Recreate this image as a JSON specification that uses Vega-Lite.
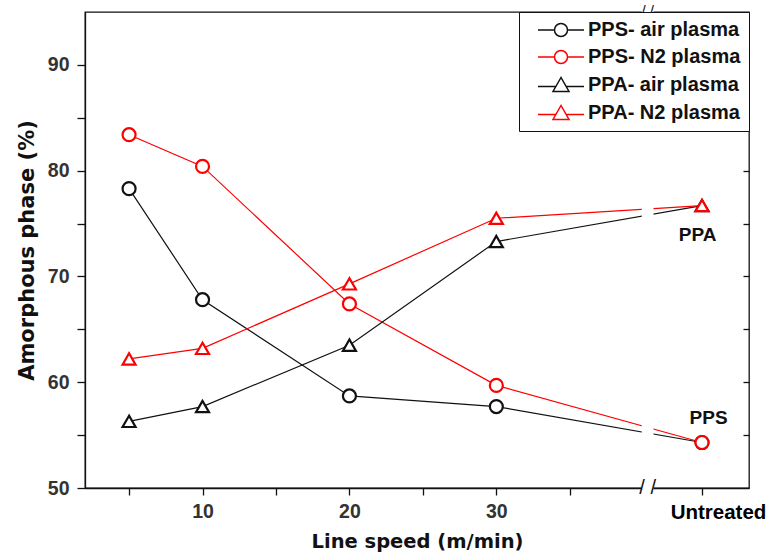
{
  "$schema": "https://vega.github.io/schema/vega-lite/v6.json",
  "width": 664,
  "height": 476,
  "autosize": {"type": "none"},
  "padding": {"left": 85, "top": 12, "right": 22, "bottom": 68},
  "background": "white",
  "config": {
    "font": "Liberation Sans",
    "view": {"stroke": "#111", "strokeWidth": 1.3},
    "axis": {
      "grid": false,
      "domainColor": "#111",
      "domainWidth": 1.3,
      "tickColor": "#111",
      "tickWidth": 1.3,
      "labelFont": "Liberation Sans",
      "labelFontWeight": "bold",
      "labelFontSize": 19.5,
      "labelColor": "#333333",
      "titleFont": "DejaVu Sans",
      "titleFontWeight": "bold",
      "titleFontSize": 19.5,
      "titleColor": "#111"
    },
    "legend": {
      "orient": "top-right",
      "offset": 0,
      "strokeColor": "#111",
      "fillColor": "white",
      "padding": 8,
      "labelFont": "Liberation Sans",
      "labelFontWeight": "bold",
      "labelFontSize": 20,
      "labelColor": "#111",
      "symbolSize": 100,
      "symbolStrokeWidth": 1.5,
      "symbolOpacity": 1,
      "symbolOffset": 24,
      "labelOffset": 17,
      "rowPadding": 7
    }
  },
  "data": {
    "values": [
      {"series": "PPS- air plasma", "speed": 5, "amorphous": 78.3},
      {"series": "PPS- air plasma", "speed": 10, "amorphous": 67.8},
      {"series": "PPS- air plasma", "speed": 20, "amorphous": 58.7},
      {"series": "PPS- air plasma", "speed": 30, "amorphous": 57.7},
      {"series": "PPS- air plasma", "speed": "Untreated", "amorphous": 54.3},
      {"series": "PPS- N2 plasma", "speed": 5, "amorphous": 83.4},
      {"series": "PPS- N2 plasma", "speed": 10, "amorphous": 80.4},
      {"series": "PPS- N2 plasma", "speed": 20, "amorphous": 67.4},
      {"series": "PPS- N2 plasma", "speed": 30, "amorphous": 59.7},
      {"series": "PPS- N2 plasma", "speed": "Untreated", "amorphous": 54.3},
      {"series": "PPA- air plasma", "speed": 5, "amorphous": 56.3},
      {"series": "PPA- air plasma", "speed": 10, "amorphous": 57.7},
      {"series": "PPA- air plasma", "speed": 20, "amorphous": 63.5},
      {"series": "PPA- air plasma", "speed": 30, "amorphous": 73.3},
      {"series": "PPA- air plasma", "speed": "Untreated", "amorphous": 76.7},
      {"series": "PPA- N2 plasma", "speed": 5, "amorphous": 62.2},
      {"series": "PPA- N2 plasma", "speed": 10, "amorphous": 63.2},
      {"series": "PPA- N2 plasma", "speed": 20, "amorphous": 69.3},
      {"series": "PPA- N2 plasma", "speed": 30, "amorphous": 75.5},
      {"series": "PPA- N2 plasma", "speed": "Untreated", "amorphous": 76.7}
    ]
  },
  "transform": [
    {"calculate": "datum.speed === 'Untreated' ? 44 : toNumber(datum.speed)", "as": "position"}
  ],
  "layer": [
    {
      "mark": {"type": "line", "strokeWidth": 1.2},
      "encoding": {
        "x": {
          "field": "position",
          "type": "quantitative",
          "scale": {"domain": [2, 47.2], "nice": false, "zero": false},
          "axis": {
            "values": [5, 10, 15, 20, 25, 30, 35, 44],
            "labelExpr": "datum.value == 44 ? 'Untreated' : (datum.value % 10 == 0 ? datum.label : '')",
            "labelColor": {"condition": {"test": "datum.value == 44", "value": "#000"}, "value": "#333333"},
            "labelFontSize": {"condition": {"test": "datum.value == 44", "value": 20.5}, "value": 19.5},
            "labelOffset": {"condition": {"test": "datum.value == 44", "value": 16}, "value": 0},
            "labelOverlap": false,
            "labelFlush": false,
            "tickSize": 7,
            "labelPadding": 7,
            "title": "Line speed (m/min)",
            "titlePadding": 10
          }
        },
        "y": {
          "field": "amorphous",
          "type": "quantitative",
          "scale": {"domain": [50, 95], "nice": false, "zero": false},
          "axis": {
            "values": [50, 55, 60, 65, 70, 75, 80, 85, 90],
            "labelExpr": "datum.value % 10 == 0 ? datum.label : ''",
            "labelOverlap": false,
            "labelFlush": false,
            "tickSize": 8,
            "labelPadding": 8,
            "title": "Amorphous phase (%)",
            "titleFontSize": 21,
            "titlePadding": 10
          }
        },
        "color": {
          "field": "series",
          "type": "nominal",
          "scale": {
            "domain": ["PPS- air plasma", "PPS- N2 plasma", "PPA- air plasma", "PPA- N2 plasma"],
            "range": ["#111111", "#ff0000", "#111111", "#ff0000"]
          },
          "legend": null
        }
      }
    },
    {
      "data": {"values": [{}]},
      "mark": {"type": "rect", "color": "white"},
      "encoding": {
        "x": {"datum": 39.9, "type": "quantitative", "axis": null},
        "x2": {"datum": 40.7},
        "y": {"datum": 49.6, "type": "quantitative", "axis": null},
        "y2": {"datum": 95.4}
      }
    },
    {
      "mark": {"type": "point", "filled": false, "fill": "white", "strokeWidth": 2.2, "opacity": 1},
      "encoding": {
        "x": {"field": "position", "type": "quantitative", "axis": null},
        "y": {
          "field": "amorphous",
          "type": "quantitative",
          "axis": {
            "orient": "right",
            "values": [55, 60, 65, 70, 75, 80, 85, 90],
            "labels": false,
            "domain": false,
            "tickSize": -6,
            "title": null
          }
        },
        "color": {
          "field": "series",
          "type": "nominal",
          "scale": {
            "domain": ["PPS- air plasma", "PPS- N2 plasma", "PPA- air plasma", "PPA- N2 plasma"],
            "range": ["#111111", "#ff0000", "#111111", "#ff0000"]
          },
          "legend": null
        },
        "shape": {
          "field": "series",
          "type": "nominal",
          "scale": {
            "domain": ["PPS- air plasma", "PPS- N2 plasma", "PPA- air plasma", "PPA- N2 plasma"],
            "range": ["circle", "circle", "triangle-up", "triangle-up"]
          },
          "legend": null
        },
        "size": {
          "field": "series",
          "type": "nominal",
          "scale": {
            "domain": ["PPS- air plasma", "PPS- N2 plasma", "PPA- air plasma", "PPA- N2 plasma"],
            "range": [169, 169, 400, 400]
          },
          "legend": null
        }
      }
    },
    {
      "mark": {"type": "point", "filled": false, "opacity": 0},
      "encoding": {
        "x": {"field": "position", "type": "quantitative", "axis": null},
        "y": {"field": "amorphous", "type": "quantitative", "axis": null},
        "color": {
          "field": "series",
          "type": "nominal",
          "scale": {
            "domain": ["PPS- air plasma", "PPS- N2 plasma", "PPA- air plasma", "PPA- N2 plasma"],
            "range": ["#111111", "#ff0000", "#111111", "#ff0000"]
          },
          "legend": {"title": null}
        },
        "shape": {
          "field": "series",
          "type": "nominal",
          "scale": {
            "domain": ["PPS- air plasma", "PPS- N2 plasma", "PPA- air plasma", "PPA- N2 plasma"],
            "range": [
              "M-4.6,0H-1.3M1.3,0H4.6M-1.3,0A1.3,1.3,0,1,1,1.3,0A1.3,1.3,0,1,1,-1.3,0Z",
              "M-4.6,0H-1.3M1.3,0H4.6M-1.3,0A1.3,1.3,0,1,1,1.3,0A1.3,1.3,0,1,1,-1.3,0Z",
              "M-4.6,0.3H-1.03M1.03,0.3H4.6M0,-1.5L-1.6,1.3L1.6,1.3Z",
              "M-4.6,0.3H-1.03M1.03,0.3H4.6M0,-1.5L-1.6,1.3L1.6,1.3Z"
            ]
          },
          "legend": {"title": null}
        }
      }
    },
    {
      "data": {"values": [{}]},
      "mark": {"type": "text", "text": "/ /", "fontSize": 20, "color": "#111", "baseline": "middle", "align": "center"},
      "encoding": {
        "x": {"datum": 40.3, "type": "quantitative", "axis": null},
        "y": {"datum": 50, "type": "quantitative", "axis": null}
      }
    },
    {
      "data": {"values": [{}]},
      "mark": {"type": "text", "text": "/ /", "fontSize": 15, "color": "#111", "baseline": "middle", "align": "center", "dy": -1},
      "encoding": {
        "x": {"datum": 40.3, "type": "quantitative", "axis": null},
        "y": {"datum": 95, "type": "quantitative", "axis": null}
      }
    },
    {
      "data": {"values": [{"label": "PPA"}]},
      "mark": {"type": "text", "fontSize": 19, "letterSpacing": 1, "fontWeight": "bold", "color": "#111", "baseline": "middle", "align": "center"},
      "encoding": {
        "x": {"datum": 43.7, "type": "quantitative", "axis": null},
        "y": {"datum": 73.9, "type": "quantitative", "axis": null},
        "text": {"field": "label"}
      }
    },
    {
      "data": {"values": [{"label": "PPS"}]},
      "mark": {"type": "text", "fontSize": 19, "letterSpacing": 1, "fontWeight": "bold", "color": "#111", "baseline": "middle", "align": "center"},
      "encoding": {
        "x": {"datum": 44.45, "type": "quantitative", "axis": null},
        "y": {"datum": 56.6, "type": "quantitative", "axis": null},
        "text": {"field": "label"}
      }
    }
  ],
  "resolve": {
    "scale": {"color": "independent", "shape": "independent", "size": "independent"},
    "axis": {"x": "independent", "y": "independent"}
  }
}
